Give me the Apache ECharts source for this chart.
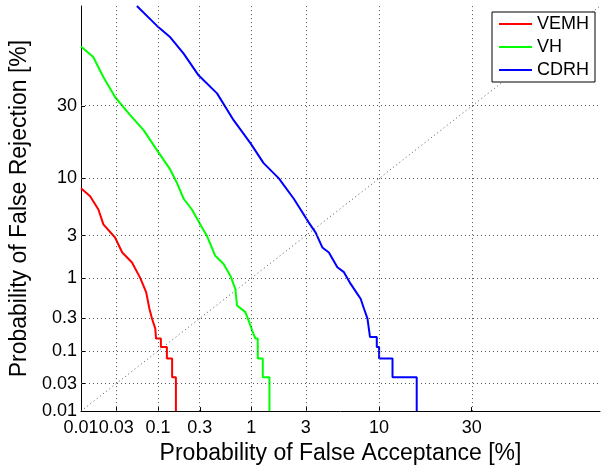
<!DOCTYPE html>
<html>
<head>
<meta charset="utf-8">
<title>DET curves</title>
<script src="https://cdn.jsdelivr.net/npm/echarts@6/dist/echarts.min.js"></script>
<style>
  html, body { margin: 0; padding: 0; background: #fff; }
  #chart { width: 605px; height: 470px; }
</style>
</head>
<body>
<div id="chart"></div>
<script>
// Tick positions (in percent) and their labels, shared by both axes
const tickPercents = [0.01, 0.03, 0.1, 0.3, 1, 3, 10, 30];
const tickLabels = ['0.01', '0.03', '0.1', '0.3', '1', '3', '10', '30'];
const axisRangePercent = [0.01, 70];

// Series names
const seriesNames = ['VEMH', 'VH', 'CDRH'];

// VEMH: false acceptance / false rejection, in percent
const vemhFA = [0.01, 0.0134, 0.0174, 0.0203, 0.029, 0.036, 0.048, 0.061, 0.072, 0.079, 0.085, 0.093, 0.095,
  0.1085, 0.1085, 0.1277, 0.1277, 0.147, 0.147, 0.1625, 0.1625];
const vemhFR = [8.3, 7.1, 5.4, 3.9, 2.87, 1.98, 1.53, 1.0, 0.67, 0.406, 0.297, 0.215, 0.154,
  0.154, 0.1155, 0.1155, 0.077, 0.077, 0.0385, 0.0385, 0.01];

// VH
const vhFA = [0.01, 0.0148, 0.0203, 0.029, 0.0455, 0.067, 0.097, 0.14, 0.167, 0.199, 0.246, 0.303, 0.358,
  0.438, 0.534, 0.625, 0.70, 0.728, 0.877, 0.98, 1.02, 1.093, 1.149, 1.149, 1.278, 1.278, 1.47, 1.47];
const vhFR = [54, 49.6, 41.3, 33.4, 26.8, 21.9, 16.3, 11.7, 9.2, 6.75, 5.4, 3.9, 2.98,
  1.82, 1.47, 1.07, 0.737, 0.449, 0.366, 0.239, 0.2, 0.154, 0.154, 0.077, 0.077, 0.0385, 0.0385, 0.01];

// CDRH
const cdrhFA = [0.0553, 0.097, 0.14, 0.199, 0.291, 0.457, 0.673, 0.98, 1.30, 1.78, 2.39, 2.72, 3.17, 3.59,
  4.04, 4.53, 5.23, 5.83, 6.5, 7.22, 7.6, 8.0, 8.43, 8.75, 9.67, 9.67, 10.0, 10.0, 12.06, 12.06, 16.5, 16.5];
const cdrhFR = [70, 62.5, 57.8, 51, 42, 34.8, 25.1, 18.1, 13.1, 10, 6.75, 5.4, 4.05, 3.22,
  2.25, 1.98, 1.35, 1.18, 0.85, 0.637, 0.55, 0.406, 0.297, 0.163, 0.163, 0.1155, 0.1155, 0.077, 0.077, 0.0385, 0.0385, 0.01];

// Equal error rate reference diagonal
const diagonalPercent = [0.01, 70];

// Inverse of the standard normal CDF (Acklam's rational approximation)
function probit(p) {
  const a = [-3.969683028665376e+01, 2.209460984245205e+02, -2.759285104469687e+02,
    1.383577518672690e+02, -3.066479806614716e+01, 2.506628277459239e+00];
  const b = [-5.447609879822406e+01, 1.615858368580409e+02, -1.556989798598866e+02,
    6.680131188771972e+01, -1.328068155288572e+01];
  const c = [-7.784894002430293e-03, -3.223964580411365e-01, -2.400758277161838e+00,
    -2.549732539343734e+00, 4.374664141464968e+00, 2.938163982698783e+00];
  const d = [7.784695709041462e-03, 3.224671290700398e-01, 2.445134137142996e+00,
    3.754408661907416e+00];
  const pl = 0.02425, ph = 1 - pl;
  let q, r;
  if (p < pl) {
    q = Math.sqrt(-2 * Math.log(p));
    return (((((c[0] * q + c[1]) * q + c[2]) * q + c[3]) * q + c[4]) * q + c[5]) /
      ((((d[0] * q + d[1]) * q + d[2]) * q + d[3]) * q + 1);
  }
  if (p <= ph) {
    q = p - 0.5; r = q * q;
    return (((((a[0] * r + a[1]) * r + a[2]) * r + a[3]) * r + a[4]) * r + a[5]) * q /
      (((((b[0] * r + b[1]) * r + b[2]) * r + b[3]) * r + b[4]) * r + 1);
  }
  q = Math.sqrt(-2 * Math.log(1 - p));
  return -(((((c[0] * q + c[1]) * q + c[2]) * q + c[3]) * q + c[4]) * q + c[5]) /
    ((((d[0] * q + d[1]) * q + d[2]) * q + d[3]) * q + 1);
}

const pct = v => probit(v / 100);
const tickValues = tickPercents.map(pct);
const axisMin = pct(axisRangePercent[0]);
const axisMax = pct(axisRangePercent[1]);
const toPoints = (fa, fr) => fa.map((v, i) => [pct(v), pct(fr[i])]);

const fontFamily = '"Liberation Sans", Arial, Helvetica, sans-serif';
const labelFor = val => {
  const i = tickValues.findIndex(t => Math.abs(t - val) < 1e-6);
  return i >= 0 ? tickLabels[i] : '';
};

function makeAxis(name, isX) {
  return {
    type: 'value',
    min: axisMin,
    max: axisMax,
    name: name,
    nameLocation: 'middle',
    nameGap: isX ? 25 : 46,
    nameTextStyle: { fontFamily, fontSize: 23, color: '#000', lineHeight: 23 },
    axisLine: { show: true, onZero: false, lineStyle: { color: '#000', width: 1 } },
    axisTick: { show: true, inside: true, length: 4, customValues: tickValues,
      lineStyle: { color: '#000', width: 1 } },
    axisLabel: { customValues: tickValues, formatter: labelFor, margin: isX ? 8 : 4,
      fontFamily, fontSize: 18, color: '#000', lineHeight: 18 },
    splitLine: { show: false }
  };
}

const gridLineStyle = { color: '#555', width: 1, type: [1, 3] };
const gridLines = []
  .concat(tickValues.slice(1).map(v => ({ xAxis: v })))
  .concat(tickValues.slice(1).map(v => ({ yAxis: v })));

const colors = ['#ff0000', '#00ff00', '#0000ff'];
const curves = [toPoints(vemhFA, vemhFR), toPoints(vhFA, vhFR), toPoints(cdrhFA, cdrhFR)];

const chart = echarts.init(document.getElementById('chart'), null, { renderer: 'canvas' });
chart.setOption({
  animation: false,
  backgroundColor: '#fff',
  grid: { left: 81, right: 5, top: 6, bottom: 57 },
  xAxis: makeAxis('Probability of False Acceptance [%]', true),
  yAxis: makeAxis('Probability of False Rejection [%]', false),
  legend: {
    data: seriesNames,
    orient: 'vertical',
    left: 492,
    top: 12,
    padding: [3, 6, 3, 7],
    itemGap: 5,
    itemWidth: 33,
    itemHeight: 2,
    icon: 'rect',
    backgroundColor: '#fff',
    borderColor: '#000',
    borderWidth: 1,
    textStyle: { fontFamily, fontSize: 18, color: '#000', lineHeight: 18 }
  },
  series: [
    {
      name: 'diagonal',
      type: 'line',
      silent: true,
      symbol: 'none',
      z: 1,
      data: diagonalPercent.map(v => [pct(v), pct(v)]),
      lineStyle: gridLineStyle,
      markLine: {
        silent: true,
        symbol: ['none', 'none'],
        label: { show: false },
        lineStyle: gridLineStyle,
        data: gridLines
      }
    }
  ].concat(seriesNames.map((name, i) => ({
    name: name,
    type: 'line',
    symbol: 'none',
    z: 3,
    color: colors[i],
    lineStyle: { color: colors[i], width: 2 },
    data: curves[i]
  })))
});
</script>
</body>
</html>
